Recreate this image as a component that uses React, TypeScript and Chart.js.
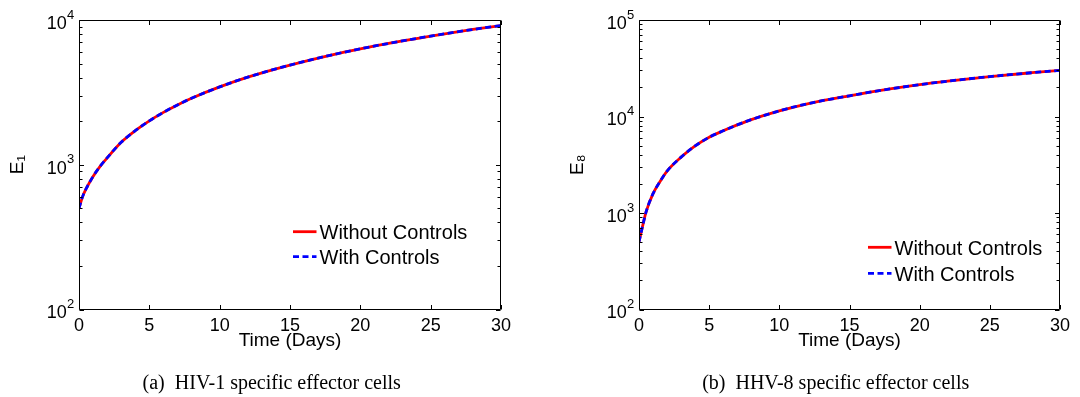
import React, { useEffect, useRef } from 'react';
import { Chart, registerables } from 'chart.js';

Chart.register(...registerables);

// ---------------- data ----------------
const timeDays = [0, 0.25, 0.5, 1, 1.5, 2, 3, 4, 5, 6, 7, 8, 10, 12, 15, 18, 20, 22, 25, 28, 30];

const e1WithoutControls = [500, 600, 680, 830, 975, 1115, 1430, 1720, 2010, 2300, 2590, 2880, 3450, 4030, 4880, 5750, 6320, 6890, 7740, 8600, 9160];
const e1WithControls = [500, 600, 680, 830, 975, 1115, 1430, 1720, 2010, 2300, 2590, 2880, 3450, 4030, 4880, 5750, 6320, 6890, 7740, 8600, 9160];

const e8WithoutControls = [500, 725, 1020, 1585, 2120, 2720, 3790, 4955, 6095, 7110, 8180, 9290, 11430, 13550, 16400, 19400, 21380, 23230, 25940, 28440, 30060];
const e8WithControls = [500, 725, 1020, 1585, 2120, 2720, 3790, 4955, 6095, 7110, 8180, 9290, 11430, 13550, 16400, 19400, 21380, 23230, 25940, 28440, 30060];

const seriesLabels = ['Without Controls', 'With Controls'];
const xAxisTitle = 'Time (Days)';
const yAxisTitles = ['E\u2081', 'E\u2088'];
const captions = ['(a)  HIV-1 specific effector cells', '(b)  HHV-8 specific effector cells'];
const xMin = 0;
const xMax = 30;
const xStep = 5;
const yMin = 100;
const yMaxes = [10000, 100000];

// ---------------- layout / style ----------------
const SANS = "'Liberation Sans', Arial, Helvetica, sans-serif";
const SERIF = "'Liberation Serif', 'Times New Roman', serif";

const panelLayouts = [
  { canvasLeft: 0, padding: { left: 0, right: 39, top: 20, bottom: 46.5 }, legend: { fromRight: 208, y: 231.7, gap: 25 }, captionCenter: 271.7 },
  { canvasLeft: 540, padding: { left: 20, right: 20, top: 20, bottom: 46.5 }, legend: { fromRight: 192, y: 247.3, gap: 26 }, captionCenter: 835.7 },
];

const toPoints = (ys: number[]) => timeDays.map((t, i) => ({ x: t, y: ys[i] }));

const matlabAxes = {
  id: 'matlabAxes',
  afterDatasetsDraw(chart: any, _args: any, opts: any) {
    const { ctx, chartArea: a, scales } = chart;
    const xs = scales.x;
    const ys = scales.y;
    const major = 4.5;
    const minor = 3;
    const L = Math.round(a.left) + 0.5;
    const R = Math.round(a.right) - 0.5;
    const T = Math.round(a.top) + 0.5;
    const B = Math.round(a.bottom) - 0.5;
    ctx.save();
    ctx.strokeStyle = '#000';
    ctx.lineWidth = 1;
    ctx.setLineDash([]);
    ctx.beginPath();
    ctx.rect(L, T, R - L, B - T);
    xs.ticks.forEach((t: any) => {
      const px = Math.round(xs.getPixelForValue(t.value)) + 0.5;
      ctx.moveTo(px, B);
      ctx.lineTo(px, B - major);
      ctx.moveTo(px, T);
      ctx.lineTo(px, T + major);
    });
    const lo = Math.floor(Math.log10(ys.min));
    const hi = Math.ceil(Math.log10(ys.max));
    for (let e = lo; e <= hi; e++) {
      for (let k = 1; k <= 9; k++) {
        const v = k * Math.pow(10, e);
        if (v < ys.min * 0.999 || v > ys.max * 1.001) continue;
        const py = Math.round(ys.getPixelForValue(v)) + 0.5;
        const len = k === 1 ? major : minor;
        ctx.moveTo(L, py);
        ctx.lineTo(L + len, py);
        ctx.moveTo(R, py);
        ctx.lineTo(R - len, py);
      }
    }
    ctx.stroke();

    // y tick labels: 10 with raised exponent
    ctx.fillStyle = '#000';
    for (let e = lo; e <= hi; e++) {
      const v = Math.pow(10, e);
      if (v < ys.min * 0.999 || v > ys.max * 1.001) continue;
      const py = ys.getPixelForValue(v);
      const xr = a.left - opts.labelGap;
      ctx.font = `18px ${SANS}`;
      ctx.textAlign = 'right';
      ctx.textBaseline = 'alphabetic';
      ctx.fillText('10', xr, py + 8.8);
      ctx.font = `13px ${SANS}`;
      ctx.textAlign = 'left';
      ctx.fillText(String(e), xr + 0.3, py - 1.5);
    }
    ctx.restore();
  },
  afterDraw(chart: any, _args: any, opts: any) {
    const { ctx, chartArea: a } = chart;
    const lg = opts.legend;
    const x0 = a.right - lg.fromRight;
    const len = 23.5;
    ctx.save();
    chart.data.datasets.forEach((ds: any, i: number) => {
      const y = lg.y + i * lg.gap;
      ctx.strokeStyle = ds.borderColor;
      ctx.lineWidth = ds.borderWidth;
      ctx.setLineDash(ds.borderDash || []);
      ctx.beginPath();
      ctx.moveTo(x0, y);
      ctx.lineTo(x0 + len, y);
      ctx.stroke();
      ctx.setLineDash([]);
      ctx.fillStyle = '#000';
      ctx.font = `20px ${SANS}`;
      ctx.textAlign = 'left';
      ctx.textBaseline = 'alphabetic';
      ctx.fillText(ds.label, x0 + len + 3, y + 7.6);
    });
    ctx.restore();
  },
};

function Panel({ index }: { index: number }) {
  const ref = useRef<HTMLCanvasElement | null>(null);
  useEffect(() => {
    if (!ref.current) return;
    const lay = panelLayouts[index];
    const without = index === 0 ? e1WithoutControls : e8WithoutControls;
    const withC = index === 0 ? e1WithControls : e8WithControls;
    const chart = new Chart(ref.current, {
      type: 'line',
      data: {
        datasets: [
          {
            label: seriesLabels[0],
            data: toPoints(without),
            borderColor: '#ff0000',
            borderWidth: 2.8,
            pointRadius: 0,
            cubicInterpolationMode: 'monotone',
            fill: false,
            order: 1,
          },
          {
            label: seriesLabels[1],
            data: toPoints(withC),
            borderColor: '#0000ff',
            borderWidth: 2.8,
            borderDash: [6, 3.5],
            pointRadius: 0,
            cubicInterpolationMode: 'monotone',
            fill: false,
            order: 0,
          },
        ],
      },
      options: {
        animation: false,
        responsive: false,
        maintainAspectRatio: false,
        events: [],
        layout: { padding: lay.padding },
        plugins: {
          legend: { display: false },
          tooltip: { enabled: false },
          title: { display: false },
          matlabAxes: { legend: lay.legend, labelGap: 12.3 },
        } as any,
        scales: {
          x: {
            type: 'linear',
            min: xMin,
            max: xMax,
            grid: { display: false, drawTicks: false },
            border: { display: false },
            ticks: {
              stepSize: xStep,
              padding: 7.6,
              color: '#000',
              font: { family: SANS, size: 18, lineHeight: 1 },
              maxRotation: 0,
            },
            title: {
              display: true,
              text: xAxisTitle,
              color: '#000',
              font: { family: SANS, size: 19, lineHeight: 1 },
              padding: 0,
            },
            afterFit: (s: any) => {
              s.height = 41;
            },
          },
          y: {
            type: 'logarithmic',
            min: yMin,
            max: yMaxes[index],
            grid: { display: false, drawTicks: false },
            border: { display: false },
            ticks: { display: false },
            title: {
              display: true,
              text: yAxisTitles[index],
              color: '#000',
              font: { family: SANS, size: 19, lineHeight: 1 },
              padding: { top: 8.2, bottom: 0 },
            },
            afterFit: (s: any) => {
              s.width = 79;
            },
          },
        },
      } as any,
      plugins: [matlabAxes],
    });
    return () => chart.destroy();
  }, [index]);
  const lay = panelLayouts[index];
  return (
    <canvas
      ref={ref}
      width={540}
      height={397}
      style={{ position: 'absolute', left: lay.canvasLeft, top: 0, width: 540, height: 397 }}
    />
  );
}

export default function App() {
  return (
    <div style={{ position: 'fixed', left: 0, top: 0, width: 1080, height: 397, background: '#fff', overflow: 'hidden' }}>
      <Panel index={0} />
      <Panel index={1} />
      {captions.map((c, i) => (
        <div
          key={i}
          style={{
            position: 'absolute',
            left: panelLayouts[i].captionCenter - 250,
            width: 500,
            top: 372,
            textAlign: 'center',
            fontFamily: SERIF,
            fontSize: 20,
            lineHeight: '20px',
            whiteSpace: 'pre',
            color: '#000',
          }}
        >
          {c}
        </div>
      ))}
    </div>
  );
}
